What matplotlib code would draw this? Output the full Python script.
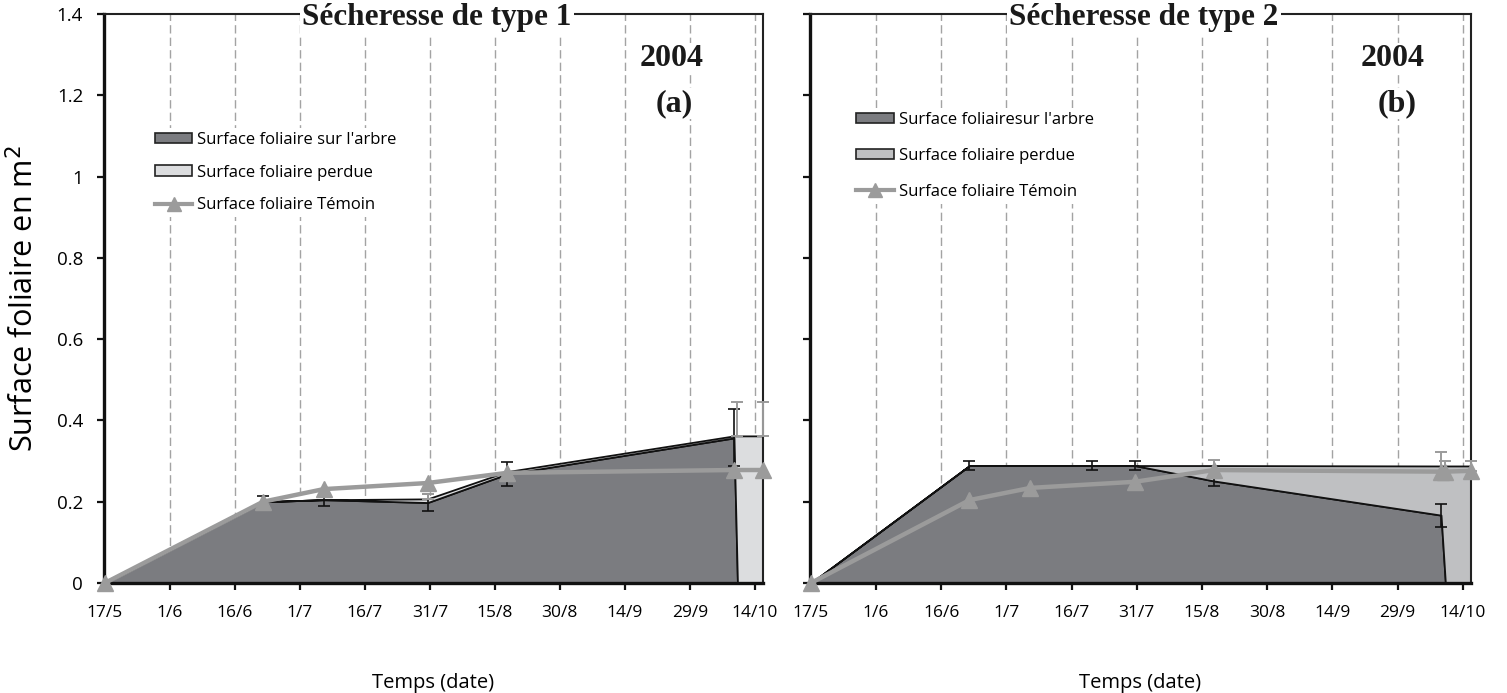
import matplotlib
matplotlib.use("Agg")
import matplotlib.pyplot as plt
from matplotlib.patches import Patch
from matplotlib.lines import Line2D

# Fonts: a sans for axes/legend, a bold serif for panel titles
SANS = "Open Sans"
SERIF = "Liberation Serif"

# ---- data (x = day of year, 2004) ----
tick_days = [138, 153, 168, 183, 198, 213, 228, 243, 258, 273, 288]
tick_labels = ["17/5", "1/6", "16/6", "1/7", "16/7", "31/7", "15/8",
               "30/8", "14/9", "29/9", "14/10"]
y_ticks = [0, 0.2, 0.4, 0.6, 0.8, 1.0, 1.2, 1.4]
y_labels = ["0", "0.2", "0.4", "0.6", "0.8", "1", "1.2", "1.4"]

# Drought type 1
t1_days = [138, 174.5, 188.5, 212.5, 230.8, 283.2, 284.0, 289.9]
t1_arbre = [0, 0.200, 0.205, 0.198, 0.268, 0.357, 0, 0]
t1_perdue = [0, 0.0, 0.0, 0.009, 0.006, 0.005, 0.362, 0.362]
t1_arbre_err = [0, 0.015, 0.015, 0.020, 0.030, 0.070, 0, 0]
t1_perdue_err = [0, 0, 0, 0.012, 0, 0, 0.083, 0.083]
t1_temoin_days = [138, 174.5, 188.5, 212.5, 230.8, 283.2, 289.9]
t1_temoin = [0, 0.200, 0.231, 0.246, 0.271, 0.278, 0.278]
t1_temoin_err = [0, 0, 0, 0, 0, 0, 0]

# Drought type 2
t2_days = [138, 174.5, 202.6, 212.5, 230.8, 283.0, 284.0, 289.9]
t2_arbre = [0, 0.289, 0.289, 0.289, 0.251, 0.167, 0, 0]
t2_perdue = [0, 0, 0, 0, 0.038, 0.121, 0.288, 0.288]
t2_arbre_err = [0, 0.010, 0.010, 0.010, 0.013, 0.028, 0, 0]
t2_perdue_err = [0, 0, 0, 0, 0, 0, 0, 0]
t2_temoin_days = [138, 174.5, 188.5, 212.5, 230.8, 283.0, 284.0, 289.9]
t2_temoin = [0, 0.204, 0.234, 0.249, 0.278, 0.274, 0.274, 0.276]
t2_temoin_err = [0, 0, 0, 0, 0.025, 0.048, 0.026, 0.024]

ARBRE_C = "#7b7c80"
TEMOIN_C = "#9b9b9b"

fig = plt.figure(figsize=(15.07, 6.93), dpi=100)
W, H = 1507, 693
ax1 = fig.add_axes([104 / W, 1 - 583 / H, 659 / W, 569 / H])
ax2 = fig.add_axes([810 / W, 1 - 583 / H, 661 / W, 569 / H])

tick_fs = 12.5
leg_fs = 12


def panel(ax, days, arbre, perdue, arbre_err, perdue_err,
          tdays, temoin, temoin_err, perdue_color, title, tag,
          leg_label_arbre, leg_anchor, leg_spacing, show_ylabels):
    total = [a + p for a, p in zip(arbre, perdue)]
    ax.fill_between(days, 0, arbre, facecolor=ARBRE_C, edgecolor="#111111",
                    lw=1.3, zorder=2)
    ax.fill_between(days, arbre, total, facecolor=perdue_color,
                    edgecolor="#111111", lw=1.3, zorder=2)

    # error bars on the tree area (black) and on the lost area (grey, plus only)
    ex = [d for d, e in zip(days, arbre_err) if e > 0]
    ey = [a for a, e in zip(arbre, arbre_err) if e > 0]
    ee = [e for e in arbre_err if e > 0]
    ax.errorbar(ex, ey, yerr=ee, fmt="none", ecolor="#111111", elinewidth=1.2,
                capsize=4, capthick=1.2, zorder=3)
    px = [d for d, e in zip(days, perdue_err) if e > 0]
    py = [t for t, e in zip(total, perdue_err) if e > 0]
    pe = [e for e in perdue_err if e > 0]
    if pe:
        ax.errorbar(px, py, yerr=[[0] * len(pe), pe], fmt="none",
                    ecolor=TEMOIN_C, elinewidth=1.4, capsize=4, capthick=1.4,
                    zorder=3, clip_on=False)

    ax.plot(tdays, temoin, color=TEMOIN_C, lw=3.2, marker="^", ms=12,
            mec=TEMOIN_C, mfc=TEMOIN_C, zorder=4, clip_on=False)
    tx = [d for d, e in zip(tdays, temoin_err) if e > 0]
    ty = [t for t, e in zip(temoin, temoin_err) if e > 0]
    te = [e for e in temoin_err if e > 0]
    if te:
        ax.errorbar(tx, ty, yerr=[[0] * len(te), te], fmt="none",
                    ecolor=TEMOIN_C, elinewidth=1.4, capsize=4, capthick=1.4,
                    zorder=4, clip_on=False)

    ax.set_xlim(137.8, 289.9)
    ax.set_ylim(0, 1.4)
    ax.set_xticks(tick_days)
    ax.set_xticklabels(tick_labels, family=SANS, fontsize=tick_fs)
    ax.set_yticks(y_ticks)
    if show_ylabels:
        ax.set_yticklabels(y_labels, family=SANS, fontsize=13.5)
    else:
        ax.set_yticklabels([])
    ax.tick_params(axis="x", direction="out", length=5, width=1.6,
                   pad=11, color="#111111")
    ax.tick_params(axis="y", direction="out", length=5, width=1.6,
                   pad=10, color="#111111")

    # vertical dashed guides at each date tick
    for d in tick_days[1:]:
        ax.axvline(d, color="#a3a3a3", lw=1.0, ls=(0, (6, 3)), zorder=1)

    for side in ("left", "bottom"):
        ax.spines[side].set_linewidth(2.4)
        ax.spines[side].set_color("#111111")
    for side in ("top", "right"):
        ax.spines[side].set_linewidth(1.5)
        ax.spines[side].set_color("#222222")

    ax.set_xlabel("Temps (date)", family=SANS, fontsize=14.5, labelpad=37)

    ax.text(0.505, 0.994, title, transform=ax.transAxes, ha="center",
            va="center", family=SERIF, fontweight="bold", fontsize=22.5,
            color="#1a1a1a", zorder=6, clip_on=False,
            bbox=dict(facecolor="white", edgecolor="none", pad=1.5))
    ax.text(tag[0], 0.921, "2004", transform=ax.transAxes, ha="center",
            va="center", family=SERIF, fontweight="bold", fontsize=23,
            color="#1a1a1a", zorder=6,
            bbox=dict(facecolor="white", edgecolor="none", pad=1))
    ax.text(tag[1], 0.843, tag[2], transform=ax.transAxes, ha="center",
            va="center", family=SERIF, fontweight="bold", fontsize=23,
            color="#1a1a1a", zorder=6,
            bbox=dict(facecolor="white", edgecolor="none", pad=1))

    handles = [
        Patch(facecolor=ARBRE_C, edgecolor="#222222", lw=1.2),
        Patch(facecolor=perdue_color, edgecolor="#222222", lw=1.2),
        Line2D([], [], color=TEMOIN_C, lw=3, marker="^", ms=10),
    ]
    labels = [leg_label_arbre, "Surface foliaire perdue",
              "Surface foliaire Témoin"]
    leg = ax.legend(handles, labels, loc="upper left",
                    bbox_to_anchor=leg_anchor, frameon=True,
                    prop=dict(family=SANS, size=leg_fs), handlelength=2.25,
                    handleheight=0.6, handletextpad=0.3,
                    labelspacing=leg_spacing,
                    borderpad=0.25, borderaxespad=0)
    leg.get_frame().set_facecolor("white")
    leg.get_frame().set_edgecolor("none")
    leg.get_frame().set_alpha(1)
    leg.set_zorder(6)


panel(ax1, t1_days, t1_arbre, t1_perdue, t1_arbre_err, t1_perdue_err,
      t1_temoin_days, t1_temoin, t1_temoin_err, "#dcdddf",
      "Sécheresse de type 1", (0.862, 0.866, "(a)"),
      "Surface foliaire sur l'arbre", (0.071, 0.800), 1.0, True)
panel(ax2, t2_days, t2_arbre, t2_perdue, t2_arbre_err, t2_perdue_err,
      t2_temoin_days, t2_temoin, t2_temoin_err, "#bfc0c2",
      "Sécheresse de type 2", (0.882, 0.888, "(b)"),
      "Surface foliairesur l'arbre", (0.064, 0.835), 1.2, False)

ax1.set_ylabel("Surface foliaire en m$^2$", family=SANS,
               fontsize=22, labelpad=12)

fig.savefig("out.png", dpi=100, facecolor="white")
